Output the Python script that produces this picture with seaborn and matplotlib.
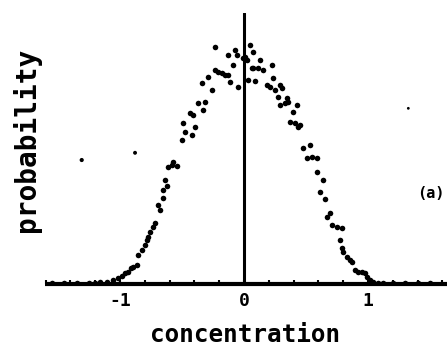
import matplotlib
matplotlib.use("Agg")
import matplotlib.pyplot as plt
import seaborn as sns
import pandas as pd
from matplotlib.ticker import MultipleLocator, FixedLocator

# Measured distribution: rising flank (negative concentrations)
left_conc = [-1.55, -1.45, -1.35, -1.25, -1.20,
             -1.161, -1.107, -1.054, -1.014, -0.986, -0.960, -0.933, -0.911,
             -0.893, -0.865, -0.852, -0.825, -0.798, -0.785, -0.772, -0.758,
             -0.731, -0.718, -0.691, -0.677, -0.651, -0.651, -0.637, -0.623,
             -0.613, -0.583, -0.570, -0.543, -0.502, -0.490, -0.476, -0.422,
             -0.395, -0.435, -0.409, -0.369, -0.328, -0.315, -0.341, -0.288,
             -0.260, -0.234, -0.207, -0.180, -0.153, -0.127, -0.234, -0.127,
             -0.073, -0.059, -0.086, -0.113, -0.046, -0.008]
left_prob = [0.005, 0.005, 0.005, 0.005, 0.006,
             0.009, 0.010, 0.018, 0.025, 0.035, 0.047, 0.054, 0.071,
             0.077, 0.084, 0.128, 0.151, 0.173, 0.195, 0.209, 0.232,
             0.254, 0.269, 0.350, 0.328, 0.380, 0.416, 0.461, 0.434,
             0.518, 0.527, 0.542, 0.523, 0.638, 0.712, 0.675, 0.660,
             0.697, 0.756, 0.748, 0.800, 0.771, 0.807, 0.889, 0.918,
             0.859, 0.948, 0.940, 0.933, 0.926, 0.926, 1.051, 1.014,
             1.036, 1.014, 0.970, 0.896, 0.874, 1.001]

# Falling flank (positive concentrations)
right_conc = [0.008, 0.022, 0.035, 0.048, 0.062, 0.075, 0.075, 0.115, 0.156,
              0.089, 0.129, 0.223, 0.236, 0.183, 0.210, 0.250, 0.290, 0.304,
              0.277, 0.344, 0.357, 0.290, 0.331, 0.425, 0.398, 0.371, 0.411,
              0.452, 0.438, 0.478, 0.532, 0.506, 0.546, 0.586, 0.586, 0.640,
              0.613, 0.653, 0.694, 0.667, 0.707, 0.748, 0.788, 0.774, 0.788,
              0.801, 0.828, 0.855, 0.869, 0.895, 0.922, 0.949, 0.976, 0.990,
              1.016, 1.043, 1.081, 1.12, 1.20, 1.30, 1.40, 1.50]
right_prob = [1.007, 0.992, 0.904, 1.059, 0.955, 1.029, 0.955, 0.955, 0.948,
              0.899, 0.992, 0.970, 0.911, 0.881, 0.874, 0.859, 0.881, 0.867,
              0.830, 0.822, 0.807, 0.793, 0.800, 0.793, 0.760, 0.719, 0.712,
              0.704, 0.697, 0.601, 0.616, 0.557, 0.564, 0.557, 0.497, 0.461,
              0.409, 0.376, 0.313, 0.298, 0.261, 0.254, 0.247, 0.195, 0.158,
              0.143, 0.121, 0.106, 0.099, 0.062, 0.054, 0.054, 0.047, 0.032,
              0.018, 0.010, 0.004, 0.005, 0.005, 0.005, 0.005, 0.005]

# Isolated stray points
stray_conc = [-1.309, -0.879, 1.325]
stray_prob = [0.549, 0.581, 0.778]
stray_size = [9, 8, 4]

tick_values = [-1, 0, 1]
tick_labels = ["-1", "0", "1"]

sns.set_theme(style="white")
plt.rcParams["font.family"] = ["DejaVu Sans Mono", "DejaVu Sans"]
plt.rcParams["font.weight"] = "bold"

curve = pd.DataFrame({"concentration": left_conc + right_conc,
                      "probability": left_prob + right_prob})
stray = pd.DataFrame({"concentration": stray_conc,
                      "probability": stray_prob,
                      "size": stray_size})

fig = plt.figure(figsize=(4.47, 3.48), dpi=100)
ax = fig.add_axes([0.1007, 0.1839, 0.8993, 0.7787])

sns.scatterplot(data=curve, x="concentration", y="probability", ax=ax,
                color="black", s=16, linewidth=0, legend=False, zorder=3)
ax.scatter(stray["concentration"], stray["probability"], s=stray["size"],
           color="black", linewidth=0, zorder=3)

ax.set_xlim(-1.605, 1.637)
ax.set_ylim(0, 1.2)
ax.axvline(0, color="black", lw=2.2, zorder=2)

for side in ("left", "right", "top"):
    ax.spines[side].set_visible(False)
ax.spines["bottom"].set_linewidth(3)
ax.spines["bottom"].set_color("black")
ax.spines["bottom"].set_capstyle("butt")

ax.xaxis.set_major_locator(FixedLocator(tick_values))
ax.set_xticklabels(tick_labels)
ax.xaxis.set_minor_locator(MultipleLocator(0.2))
ax.tick_params(axis="x", which="both", direction="in", length=3, width=1.5,
               color="black", bottom=True, labelsize=13, pad=6,
               labelcolor="black")
ax.set_yticks([])

ax.set_xlabel("concentration", fontsize=17.5, fontweight="bold", color="black")
ax.xaxis.set_label_coords(0.4975, -0.214)
ax.xaxis.label.set_verticalalignment("baseline")

ax.set_ylabel("probability", fontsize=20, fontweight="bold", color="black")
ax.yaxis.set_label_coords(-0.045, 0.531)
ax.yaxis.label.set_verticalalignment("center")

fig.text(0.964, 0.443, "(a)", fontsize=11, fontweight="bold",
         ha="center", va="center", color="black")

fig.savefig("out.png", dpi=100, facecolor="white")
